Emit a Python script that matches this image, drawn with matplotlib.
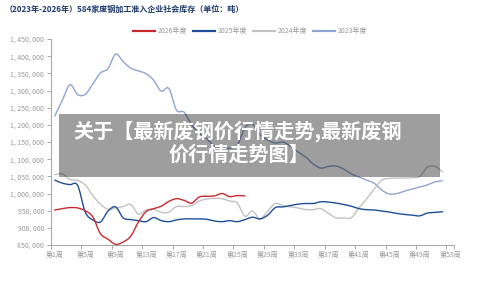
"""
584家废钢加工准入企业社会库存 2023-2026 周度走势 (recreated chart).
"""

import numpy as np
import matplotlib
matplotlib.use("Agg")
import matplotlib.pyplot as plt
from matplotlib.path import Path
from matplotlib.patches import PathPatch, Rectangle
from matplotlib.lines import Line2D
from matplotlib.ticker import FuncFormatter, MultipleLocator

plt.rcParams["font.family"] = ["Noto Sans CJK SC", "DejaVu Sans"]

TITLE = "（2023年-2026年）584家废钢加工准入企业社会库存（单位：吨）"
OVERLAY = ["关于【最新废钢价行情走势,最新废钢", "价行情走势图】"]

WEEK_LABELS = ["第%d周" % w for w in range(1, 54)]

INV_2026 = [952000, 956000, 959000, 958000, 950000, 932000, 883000, 867000, 852000, 859000,
            876000, 917000, 947000, 956000, 963000, 977000, 985000, 980000, 972000, 990000,
            992000, 993000, 1000000, 991000, 994000, 993000]

INV_2025 = [1039000, 1030000, 1026000, 1024000, 946000, 923000, 917000, 949000, 961000, 929000,
            924000, 921000, 918000, 930000, 921000, 918000, 923000, 926000, 926000, 926000,
            925000, 920000, 918000, 921000, 918000, 924000, 931000, 926000, 937000, 959000,
            961000, 965000, 969000, 971000, 971000, 976000, 975000, 972000, 968000, 963000,
            956000, 953000, 952000, 949000, 946000, 942000, 939000, 937000, 935000, 943000,
            945000, 947000]

INV_2024 = [1055000, 1057000, 1041000, 1038000, 1025000, 994000, 969000, 954000, 958000, 962000,
            968000, 940000, 952000, 954000, 945000, 946000, 962000, 962000, 965000, 978000,
            984000, 986000, 985000, 978000, 972000, 934000, 949000, 926000, 949000, 971000,
            965000, 961000, 958000, 953000, 953000, 956000, 942000, 929000, 929000, 929500,
            958000, 984000, 1013000, 1039000, 1044000, 1045000, 1045000, 1046000, 1049500, 1077000,
            1079000, 1063000]

INV_2023 = [1225700, 1272000, 1317000, 1288000, 1289000, 1319000, 1351000, 1364000, 1406000, 1384000,
            1365000, 1357000, 1349000, 1330000, 1298000, 1306000, 1243000, 1237000, 1200000, 1176000,
            1159000, 1138000, 1132000, 1132000, 1141000, 1191000, 1202000, 1171000, 1156000, 1147000,
            1150000, 1138000, 1121000, 1106000, 1086000, 1074000, 1079000, 1080000, 1071000, 1057000,
            1048000, 1039000, 1030000, 1010000, 998500, 1000000, 1007000, 1013000, 1019000, 1025000,
            1034000, 1037000]

SERIES = [("2026年度", INV_2026, "#c62a30"),
          ("2025年度", INV_2025, "#1f4e98"),
          ("2024年度", INV_2024, "#c2c2c2"),
          ("2023年度", INV_2023, "#8ea6d2")]


def smooth_path(xs, ys):
    """Catmull-Rom style bezier through the points (like a smoothed line)."""
    n = len(xs)
    verts = [(xs[0], ys[0])]
    codes = [Path.MOVETO]
    for i in range(n - 1):
        a = max(i - 1, 0)
        b = min(i + 2, n - 1)
        c1 = (xs[i] + (xs[i + 1] - xs[a]) / 6, ys[i] + (ys[i + 1] - ys[a]) / 6)
        c2 = (xs[i + 1] - (xs[b] - xs[i]) / 6, ys[i + 1] - (ys[b] - ys[i]) / 6)
        verts += [c1, c2, (xs[i + 1], ys[i + 1])]
        codes += [Path.CURVE4] * 3
    return Path(verts, codes)


def main() -> None:
    fig = plt.figure(figsize=(5, 2.91), dpi=100)
    ax = fig.add_axes([0.102, 0.158, 0.806, 0.708])

    handles = []
    for name, vals, color in reversed(SERIES):
        xs = np.arange(len(vals), dtype=float)
        path = smooth_path(xs, np.asarray(vals, dtype=float))
        ax.add_patch(PathPatch(path, fill=False, edgecolor=color, lw=1.0,
                               capstyle="round", joinstyle="round"))
    for name, vals, color in SERIES:
        handles.append(Line2D([], [], color=color, lw=1.6, label=name))

    ax.set_xlim(-0.5, len(WEEK_LABELS) - 0.5)
    ax.set_ylim(850000, 1450000)

    # category axis: labels on the bands, ticks on band boundaries
    label_pos = np.arange(0, len(WEEK_LABELS), 4)
    ax.set_xticks(label_pos)
    ax.set_xticklabels([WEEK_LABELS[i] for i in label_pos])
    bounds = list(np.arange(-0.5, len(WEEK_LABELS) - 0.5, 4)) + [len(WEEK_LABELS) - 0.5]
    ax.set_xticks(bounds, minor=True)
    ax.tick_params(axis="x", which="major", length=0, pad=4)
    ax.tick_params(axis="x", which="minor", length=3, color="#aaaaaa", width=0.7)

    ax.yaxis.set_major_locator(MultipleLocator(50000))
    ax.yaxis.set_major_formatter(FuncFormatter(lambda v, _: f"{v:,.0f}".replace(",", ", ")))
    ax.tick_params(axis="y", length=3, color="#aaaaaa", width=0.7, pad=2)
    ax.tick_params(labelsize=5, labelcolor="#999999")

    for side in ("top", "right"):
        ax.spines[side].set_visible(False)
    for side in ("left", "bottom"):
        ax.spines[side].set_color("#aaaaaa")
        ax.spines[side].set_linewidth(0.8)

    fig.text(0.01, 1 - 9 / 291, TITLE, fontsize=5.8, fontweight="bold",
             color="#1f3a6e", va="center", ha="left")

    fig.legend(handles=handles, loc="center", bbox_to_anchor=(0.5, 1 - 31 / 291),
               ncol=4, frameon=False, fontsize=5, labelcolor="#999999",
               handlelength=3.2, handletextpad=0.4, columnspacing=0.8)

    # grey banner laid over the chart
    fig.patches.append(Rectangle((59 / 500, 1 - 177 / 291), 381 / 500, 63 / 291,
                                 transform=fig.transFigure, facecolor="black",
                                 alpha=0.38, edgecolor="none", zorder=5))
    fig.text(238 / 500, 1 - 131 / 291, OVERLAY[0], fontsize=14.5, fontweight="bold",
             color="white", ha="center", va="center", zorder=6)
    fig.text(239 / 500, 1 - 154 / 291, OVERLAY[1], fontsize=14.5, fontweight="bold",
             color="white", ha="center", va="center", zorder=6)

    fig.savefig("out.png", dpi=100)
    plt.close(fig)


if __name__ == "__main__":
    main()
